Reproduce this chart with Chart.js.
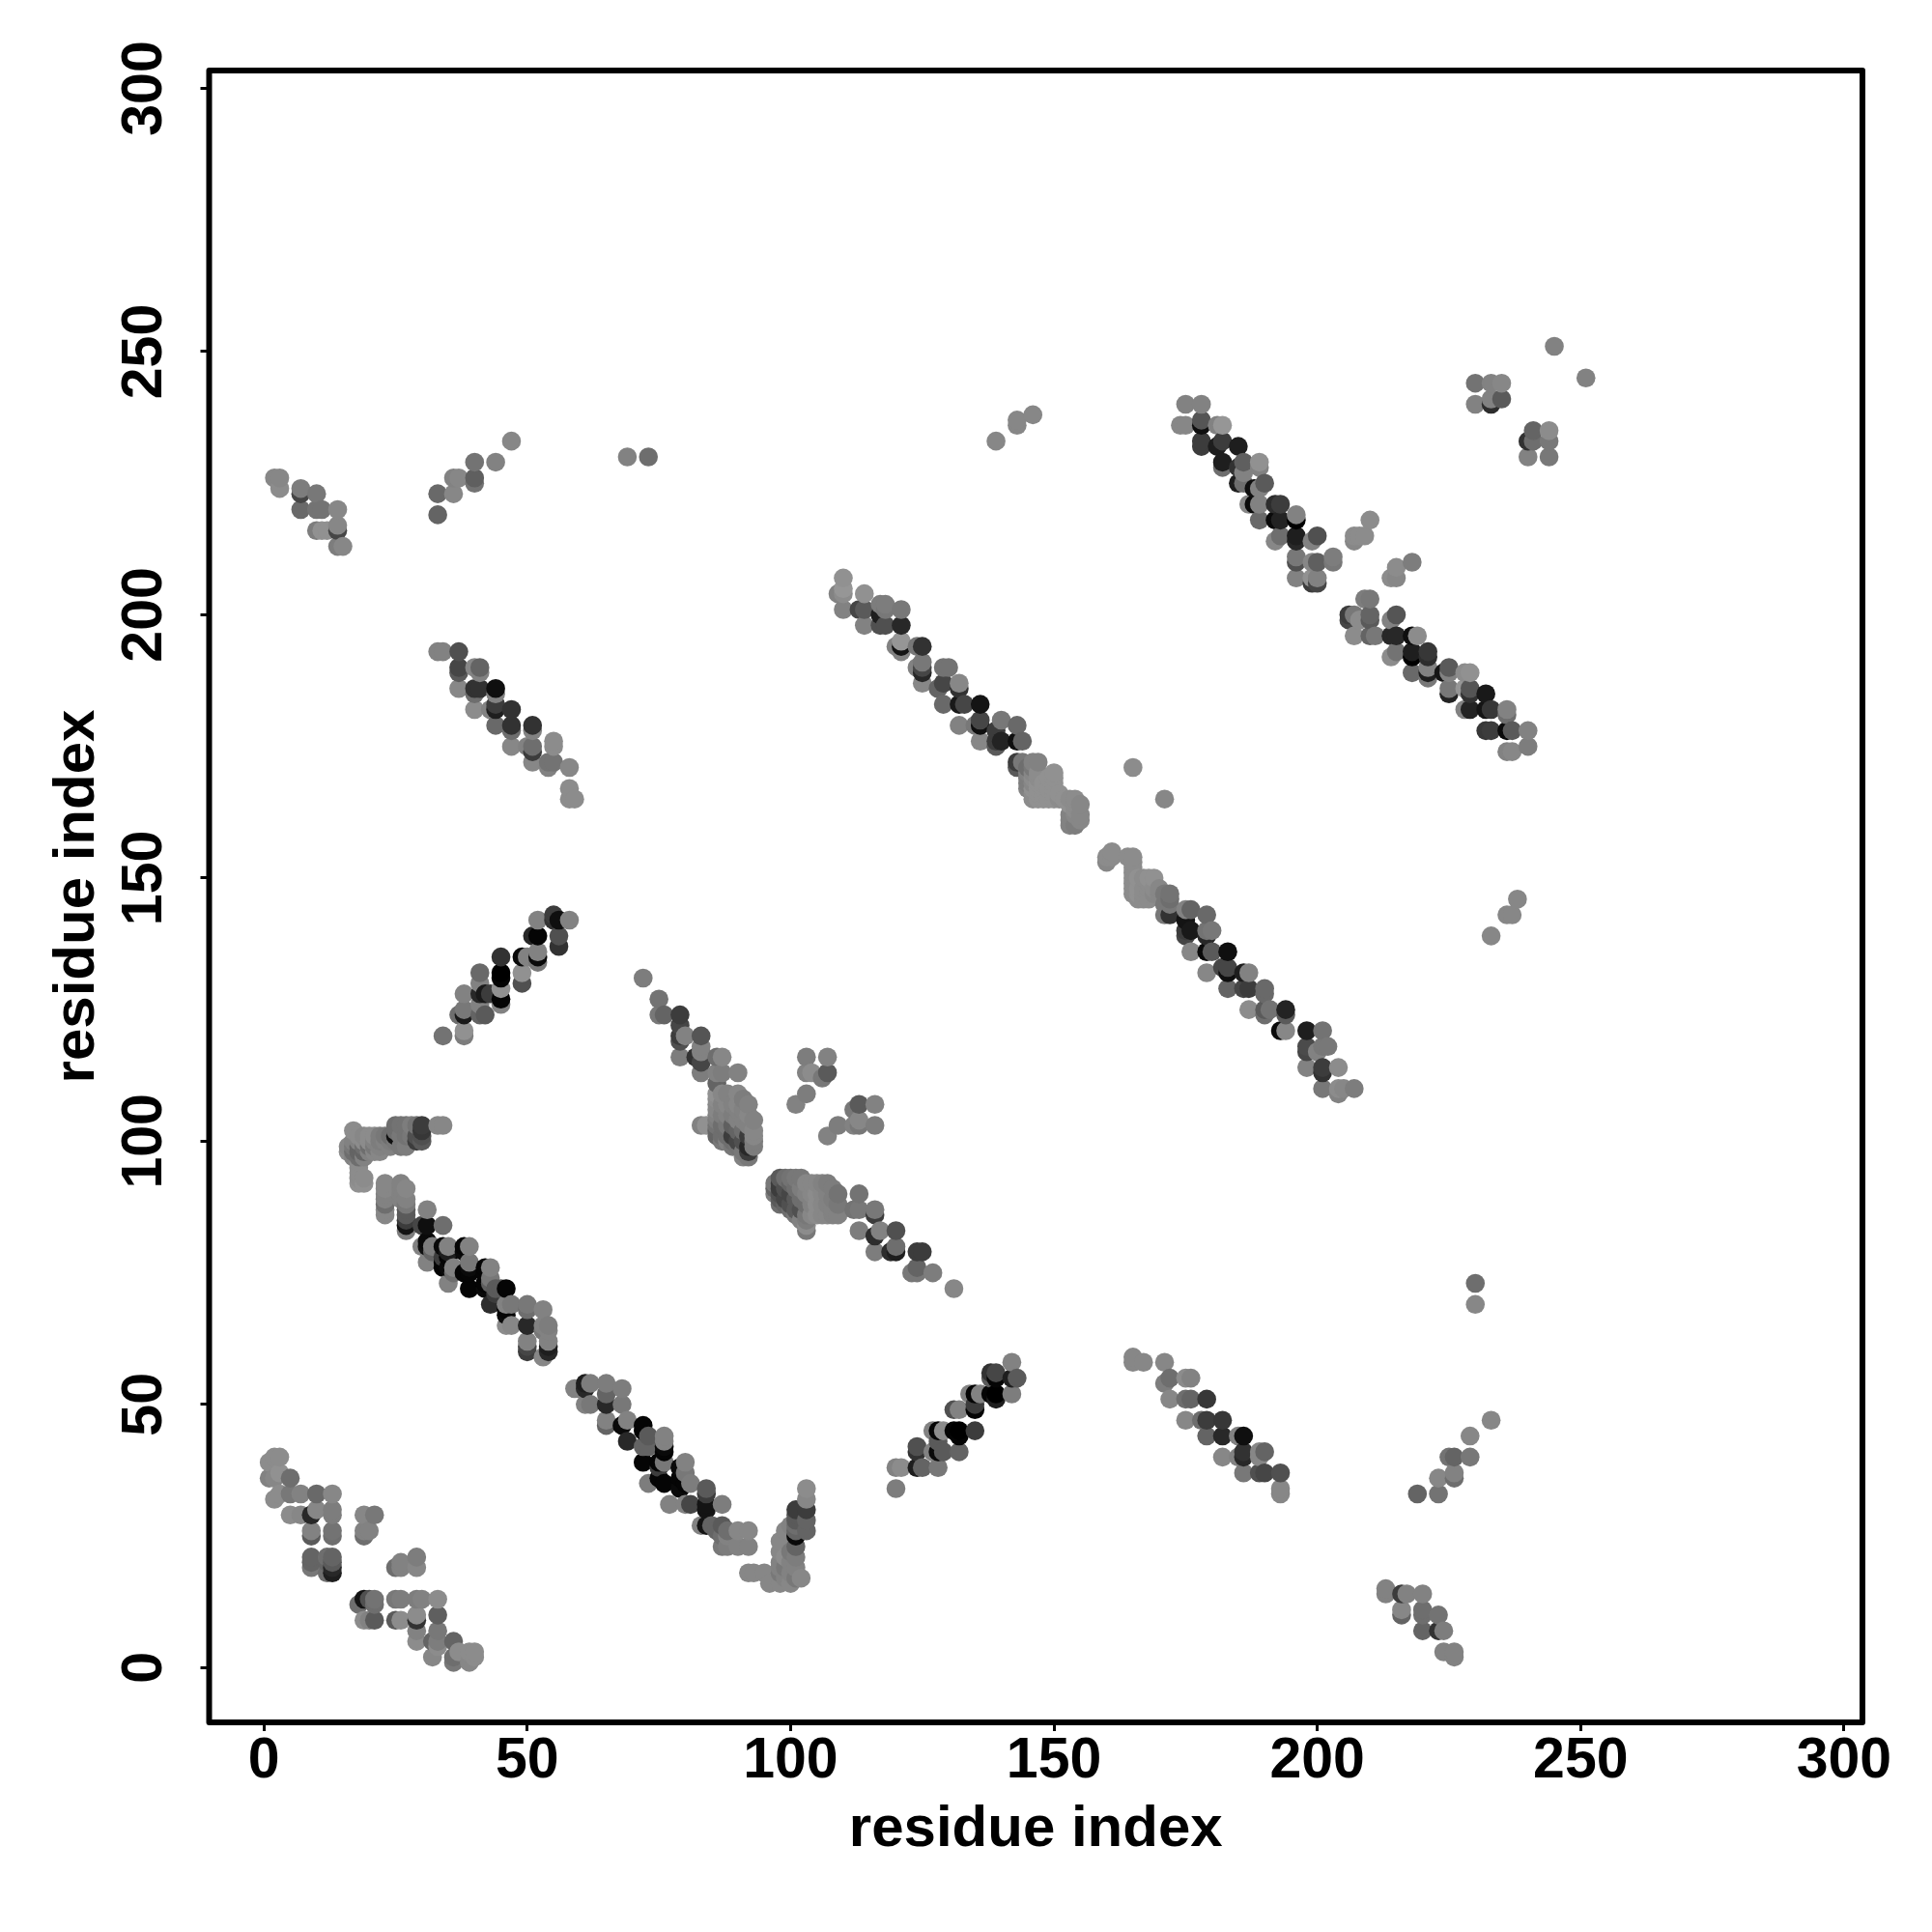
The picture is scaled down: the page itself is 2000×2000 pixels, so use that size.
<!DOCTYPE html>
<html>
<head>
<meta charset="utf-8">
<title>residue contact map</title>
<script src="https://cdn.jsdelivr.net/npm/chart.js"></script>
<style>
  html, body { margin: 0; padding: 0; background: #fff; }
  canvas { display: block; }
</style>
</head>
<body>
<canvas id="contacts" width="2000" height="2000"></canvas>
<script>
// every contact is [residue x, residue y, grey level]
const tickValues = [0, 50, 100, 150, 200, 250, 300];
const axisLabel = 'residue index';

const cornerBottomLeft = [
  [2,40,140],[3,40,140],[1,39,140],[1,36,130],[3,37,145],[5,36,110],[2,36,135],[2,32,140],[3,33,140],[5,33,120],[5,29,140],
  [7,33,130],[7,29,135],[10,33,105],[13,33,135],[9,29,40],[10,30,135],[13,30,125],[13,29,125],[9,26,130],[9,25,90],[13,26,115],[13,25,110],
  [9,21,100],[9,20,100],[9,19,120],[12,21,110],[13,21,100],[13,19,40],[12,18,110],[12,20,100],[13,20,90],[13,18,30],
  [19,29,135],[21,29,120],[19,26,130],[19,25,110],[20,26,130],[25,19,110],[26,20,130],[26,19,130],[29,21,125],[29,19,135],
  [18,12,110],[19,13,20],[20,13,80],[21,13,115],[21,12,110],[19,9,140],[20,9,130],[21,9,90],[25,13,120],[26,13,125],[25,9,90],[26,9,140],
  [29,13,125],[30,13,130],[33,13,140],[29,10,140],[29,9,50],[33,10,95],[29,7,130],[29,5,140],[33,7,120],[33,5,125],[32,2,135],[33,4,140],[32,5,100],
  [36,5,100],[36,2,110],[36,1,120],[37,3,140],[39,3,140],[39,1,135],[40,3,140],[40,2,140]
];

const stripeLeftLong = [
  [23,92,135],[23,91,135],[23,90,130],[23,89,130],[23,88,110],[23,87,135],[23,86,135],[26,92,130],[26,91,130],[26,90,130],[26,89,130],[27,91,135],[27,89,130],[27,88,120],[27,87,90],[27,86,90],[27,85,60],
  [31,87,130],[27,84,20],[27,83,125],[30,84,70],[31,84,15],[30,80,130],[31,81,10],[31,80,15],[31,77,130],[34,84,110],[32,80,125],[32,79,100],[35,80,130],[34,80,10],[35,79,30],[35,78,5],[34,78,60],[34,77,5],
  [35,76,10],[34,76,5],[36,75,110],[35,73,130],[36,76,130],[39,80,130],[38,80,5],[38,79,10],[38,75,5],[39,77,120],[39,76,10],[39,75,5],[39,72,5],[43,76,130],[42,76,5],[42,75,5],[42,73,5],[43,74,120],
  [43,73,95],[42,72,10],[46,72,5],[44,72,90],[45,72,90],[44,71,60],[43,69,45],[46,69,130],[46,68,5],[46,67,10],[47,69,120],[50,69,120],[50,68,110],[53,68,130],[46,65,140],[47,65,135],[50,65,40],[53,65,130],[53,64,120],
  [54,65,125],[54,64,130],[50,62,130],[50,61,70],[50,60,60],[54,62,130],[54,61,30],[54,60,40],[53,59,135]
];

const stripeLowerMiddle = [
  [59,53,130],[60,53,130],[61,54,30],[61,53,40],[62,54,125],[61,50,130],[62,50,120],[65,54,125],[65,52,100],[68,53,125],[65,50,40],[68,50,120],[65,47,130],[65,46,100],[69,47,130],[68,46,10],
  [69,43,40],[72,46,5],[72,45,5],[73,44,90],[73,42,100],[72,42,100],[76,44,130],[76,43,130],[76,42,10],[76,41,5],[72,39,5],[73,35,125],[76,39,120],[75,39,5],[75,38,60],[75,36,5],[76,35,5],[77,31,130],[80,39,130],[79,38,10],
  [79,36,5],[79,34,10],[80,37,120],[81,35,125],[80,35,5],[80,31,130],[81,31,70],[84,34,90],[84,33,60],[84,31,20],[84,30,20],[87,31,125],[83,27,130],[84,27,20],[85,27,100],[86,26,100],[87,27,90],[87,25,110],[87,23,120],
  [88,26,110],[88,25,130],[90,26,135],[90,23,130],[92,26,135],[92,23,130],[88,23,125],[92,18,135],[93,18,135],[95,18,135],[96,16,135],[98,16,135],[102,17,135],[98,19,130],[101,19,130],[98,22,135],
  [98,24,135],[98,20,130],[98,18,120],[99,17,130],[99,19,120],[100,20,130],[100,22,120],[100,16,135],[101,21,125],[101,17,120],
  [101,23,100],[99,26,135],[101,25,10],[103,34,140],[103,32,135],[101,30,60],[103,30,60],[101,29,90],[103,28,100],[101,28,90],[101,27,110],[100,27,130],[103,26,100],[101,26,100],[100,18,130],[99,21,140]
];

const stripeLeftUpper = [
  [34,120,115],[38,121,145],[38,120,125],[38,128,130],[38,125,120],[38,124,25],[37,124,110],[42,124,90],[41,124,100],[41,132,105],[41,130,130],
  [41,128,40],[42,128,25],[43,128,60],[41,126,130],[45,135,50],[45,132,0],[45,131,5],[45,129,145],[45,127,5],[45,126,130],[49,135,10],[50,135,130],
  [49,132,145],[49,130,80],[52,136,130],[52,135,10],[52,134,120],[52,139,5],[51,139,40],[56,139,80],[56,137,50],[52,142,130],[55,142,50],[56,142,15],[55,143,60],[58,142,130]
];

const hookNearHundred = [
  [17,102,140],[16,99,135],[16,98,140],[17,100,130],[17,99,120],[17,98,110],[18,101,140],[18,100,130],[18,99,100],[19,101,135],[19,100,140],[19,99,110],[19,98,100],[19,97,130],[20,101,140],[20,100,140],[20,99,110],
  [21,101,140],[21,100,130],[21,99,120],[21,98,135],[22,101,125],[22,100,125],[22,99,130],[22,98,135],[20,98,130],[18,98,100],[18,97,110],[17,97,130],[18,96,140],[18,95,140],[18,94,140],[18,93,140],[18,92,145],[19,93,140],[19,92,145],
  [23,101,120],[23,100,130],[24,101,110],[24,100,125],[24,99,130],[25,103,110],[25,102,110],[25,101,15],[25,100,120],[26,103,115],[26,101,120],[26,99,120],[27,103,115],[27,101,115],[27,99,125],
  [28,103,125],[28,101,120],[29,103,115],[29,101,80],[29,100,60],[30,103,60],[30,102,55],[30,101,80],[30,100,90],[33,103,135],[34,103,135]
];

const stripeCentre = [
  [72,131,125],[75,127,115],[75,124,120],[76,124,100],[79,124,60],[79,122,70],[79,120,60],[80,120,130],[79,119,80],[83,120,85],[83,118,130],[83,117,130],
  [79,116,125],[82,116,50],[83,115,70],[86,116,110],[87,116,135],[83,113,125],[86,113,130],[87,113,125],[90,113,130],[86,111,100],[83,103,130],[84,103,145],
  [113,90,115],[113,87,120],[112,87,115],[116,87,120],[116,86,60],[113,83,125],[116,82,45],[117,83,130],[120,83,80],[120,80,110],[116,79,125],[119,79,45],[120,79,30],
  [124,79,60],[125,79,60],[124,76,100],[123,75,120],[124,75,120],[127,75,125],[131,72,135]
];

// the two crowded patches either side of the gap near residue 95
const patchUpper = [
  [86,109,145],[86,108,140],[86,107,135],[86,106,135],[86,105,130],[86,104,125],[86,103,115],[86,102,100],[86,101,100],
  [87,109,135],[87,107,130],[87,105,125],[87,103,110],[87,101,110],[87,100,120],
  [88,109,130],[88,107,135],[88,105,130],[88,103,120],[88,101,110],[88,100,130],
  [89,107,130],[89,105,125],[89,103,95],[89,101,60],[89,100,110],[89,99,120],
  [90,109,135],[90,107,135],[90,106,130],[90,104,130],[90,102,100],[90,100,70],[90,99,115],
  [91,108,125],[91,106,130],[91,104,130],[91,102,110],[91,100,80],[91,98,120],[91,97,130],
  [92,107,130],[92,105,135],[92,103,130],[92,101,60],[92,99,40],[92,98,60],[92,97,120],
  [93,104,130],[93,102,135],[93,101,135],[93,100,125],[93,99,125]
];

const patchLower = [
  [97,92,120],[97,91,100],[97,90,125],
  [98,93,90],[98,92,60],[98,91,60],[98,90,80],[98,89,90],[98,88,110],
  [99,93,110],[99,91,80],[99,89,70],[99,88,100],
  [100,93,115],[100,92,100],[100,90,70],[100,88,80],[100,87,110],
  [101,93,120],[101,91,110],[101,89,90],[101,87,90],[101,86,120],
  [102,93,120],[102,91,125],[102,89,110],[102,87,80],[102,85,130],
  [103,92,135],[103,90,130],[103,88,110],[103,86,120],[103,85,125],[103,84,140],[103,83,120],
  [104,92,135],[104,90,135],[104,88,130],[104,86,135],
  [105,92,135],[105,90,140],[105,88,140],[105,86,140],
  [106,92,130],[106,90,135],[106,88,135],[106,86,135],
  [107,92,125],[107,90,130],[107,88,130],[107,86,135],
  [108,91,125],[108,89,125],[108,87,130],[108,86,130],
  [109,90,115],[109,88,120],[109,86,130]
];

const wingsCentre = [
  [103,116,125],[107,116,130],[103,113,130],[104,113,140],[106,112,120],[107,113,90],[103,109,125],[101,107,130],
  [113,107,90],[112,106,120],[116,107,130],[113,104,135],[113,103,120],[112,103,130],[109,103,125],[116,103,125],[107,101,130]
];

const clusterBottomMiddle = [
  [120,34,125],[120,38,130],[121,38,140],[124,42,80],[124,41,50],[125,38,100],[124,38,30],[128,38,120],[127,45,130],[128,45,5],[129,45,140],
  [127,41,130],[128,41,10],[129,41,90],[128,43,90],[131,45,5],[132,45,0],[132,41,100],[132,44,5],[135,45,60],[131,49,80],[132,49,130],[135,49,5],[135,50,60],
  [134,52,130],[135,52,5],[136,52,130],[138,52,5],[139,52,0],[139,51,30],[142,52,125],[138,56,50],[139,56,70],[138,55,90],[139,55,5],[142,58,130],[142,55,30],[143,55,90]
];

const clusterBottomRight = [
  [165,59,135],[165,58,135],[167,58,135],[171,58,135],[172,55,110],[171,54,125],[175,55,140],[176,55,130],[172,51,135],[175,51,110],[176,51,100],[179,51,55],
  [175,47,135],[179,47,60],[182,47,55],[178,47,110],[179,44,100],[182,44,40],[186,44,15],[185,44,130],[182,40,135],[186,41,50],[186,40,40],[185,40,130],
  [189,41,135],[190,41,100],[189,40,135],[186,37,120],[189,37,80],[190,37,70],[193,37,80],[193,34,135],[193,33,135]
];

const isolatedRight = [
  [230,73,110],[230,69,135],[233,47,135],[229,44,135],[226,40,100],[225,40,115],[229,40,120],[223,36,135],[226,37,130],[226,36,110],[219,33,100],[223,33,115],
  [213,15,130],[213,14,130],[216,14,60],[217,14,130],[220,14,130],[216,11,135],[216,10,100],[220,11,110],[220,10,110],[223,10,115],[220,7,100],[223,7,50],[224,7,125],
  [224,3,130],[226,3,130],[226,2,130],[233,139,135],[236,143,135],[237,143,135],[238,146,135]
];

const stripeDiagonal = [
  [110,207,145],[110,205,150],[109,204,130],[110,204,140],[110,201,130],[114,204,145],[113,201,70],[114,201,90],[114,198,130],[117,202,125],[118,202,125],[117,200,30],[118,201,120],
  [117,198,80],[118,198,80],[121,201,120],[121,198,40],[121,195,150],[121,194,20],[120,194,130],[121,193,130],[125,194,50],[124,194,120],[125,191,120],[125,190,70],[124,190,130],[125,189,40],
  [125,187,135],[129,190,115],[130,190,115],[129,187,70],[128,186,100],[132,187,135],[132,186,50],[129,183,105],[132,183,25],[133,183,70],[132,179,130],
  [136,183,20],[136,180,70],[136,179,15],[135,179,120],[136,176,135],[140,180,120],[139,178,60],[143,179,105],[144,176,100],[143,176,15],[139,176,60],[139,175,90],[140,176,35],
  [143,172,60],[143,171,90],[144,172,120],[175,144,130],[176,144,100],[175,142,20],[179,143,105],[175,140,60],[176,140,25],[175,139,70],
  [179,140,115],[180,140,120],[179,139,40],[176,136,135],[183,136,15],[180,136,90],[179,136,10],[179,132,135],[183,133,70],[183,132,15],[182,133,70],[187,132,130],[186,132,30],
  [183,129,100],[186,129,70],[187,129,60],[190,129,105],[190,128,105],[187,125,140],[190,125,90],[191,125,115],[190,124,110],[194,125,35],[194,124,90],
  [193,121,10],[194,121,135],[198,121,30],[201,121,115],[198,118,75],[198,117,70],[201,118,120],[202,118,120],[200,117,130],[198,114,130],[201,114,60],[201,113,50],[204,114,140],
  [201,110,120],[204,110,140],[204,109,130],[207,110,125],[205,110,135]
];

// pale middle of the long diagonal
const diagonalPale = [
  [145,171,110],[145,170,130],[145,169,125],[145,168,125],[145,167,130],
  [146,172,130],[146,171,120],[146,170,135],[146,169,140],[146,168,135],[146,167,145],[146,166,140],[146,165,140],
  [147,172,130],[147,170,140],[147,169,140],[147,168,145],[147,167,145],[147,166,145],[147,165,145],
  [148,168,145],[148,167,145],[148,166,145],[148,165,145],[149,169,145],[149,167,145],[149,165,145],
  [150,170,145],[150,169,145],[150,168,145],[150,167,145],[150,166,145],[150,165,145],[151,166,145],[151,165,140],[152,165,145],
  [153,165,140],[153,164,145],[153,162,130],[153,161,130],[153,160,130],[154,165,140],[154,164,140],[154,163,140],[154,162,135],[154,160,125],[155,164,135],[155,162,135],[155,161,135],
  [161,155,140],[160,154,140],[160,153,135],[161,154,140],[164,154,140],[165,154,140],[165,153,140],[165,152,140],
  [165,151,140],[165,150,140],[165,149,140],[165,148,140],[165,147,140],[166,150,145],[166,148,145],[166,147,145],[166,146,140],
  [167,150,140],[167,148,140],[167,147,140],[167,146,140],[168,150,145],[168,149,140],[168,148,140],[168,147,140],[168,146,140],
  [169,150,145],[169,148,140],[169,147,135],[170,148,135],[170,147,135],[171,147,120],[171,145,120],[171,143,120],
  [172,147,115],[172,146,110],[172,145,120],[172,143,50]
];

const stripeUpperRight = [
  [175,240,130],[178,240,130],[174,236,135],[175,236,135],[178,237,85],[178,236,15],[181,236,130],[182,236,150],[178,232,60],[178,233,60],[181,232,30],[182,233,60],[185,232,30],
  [182,229,30],[182,228,110],[186,229,95],[185,228,50],[186,227,130],[189,229,145],[189,228,130],[185,225,30],[186,225,110],[190,225,90],[188,224,15],[189,224,130],
  [187,221,135],[188,221,10],[189,221,130],[189,218,105],[192,221,45],[193,221,60],[192,218,10],[193,218,35],[196,219,130],[196,218,0],[196,215,30],[196,214,40],[200,215,80],[199,214,130],
  [192,214,135],[193,215,110],[196,211,120],[196,210,80],[196,207,130],[203,210,120],[203,211,125],[199,210,135],[200,210,95],[200,207,130],[199,207,145],[199,206,60],[200,206,70],
  [210,218,140],[207,215,140],[209,215,140],[207,214,135],[208,215,140],[218,210,125],[215,209,140],[215,207,135],[214,207,140],
  [209,203,125],[210,203,120],[206,200,60],[206,199,70],[208,199,140],[207,200,120],[210,200,100],[210,199,90],[207,196,140],[210,196,100],[211,196,120],[215,200,85],[214,199,130],
  [214,196,40],[215,196,40],[218,196,15],[219,196,140],[215,193,115],[214,192,140],[218,193,30],[218,192,0],[221,193,55],[221,192,45],[218,189,105],[221,190,130],[221,189,30],[221,188,120],
  [225,190,90],[224,189,20],[225,189,130],[229,189,145],[228,189,140],[225,185,35],[225,186,120],[228,186,150],[229,186,85],[229,185,50],[232,185,25],[228,182,130],[229,182,35],
  [232,182,20],[233,182,55],[236,182,130],[236,181,110],[232,178,55],[233,178,60],[236,178,10],[237,178,90],[240,178,130],[236,174,130],[237,174,135],[240,175,125]
];

const clusterTopRight = [
  [245,251,130],[251,245,130],[230,244,115],[233,244,130],[235,244,135],[230,240,130],[233,240,45],[235,241,90],[233,241,130],
  [241,235,100],[244,235,140],[240,233,50],[241,233,110],[244,233,120],[240,230,130],[244,230,120],[139,233,135],[143,236,135],[143,237,135],[146,238,135],[165,171,140],[171,165,135]
];

const clusterTopLeft = [
  [2,226,135],[3,226,135],[3,224,140],[7,224,125],[7,223,70],[10,223,120],[7,220,105],[10,220,115],[11,220,115],[14,220,135],[10,216,125],[11,216,145],[12,216,145],[14,217,135],[14,216,70],[14,213,125],[15,213,135],
  [33,223,105],[33,219,100],[36,223,135],[36,226,130],[37,226,135],[40,229,115],[40,226,95],[40,225,115],[44,229,130],[47,233,135],[69,230,130],[73,230,110]
];

const stripeUpperLeft = [
  [33,193,130],[34,193,130],[37,193,80],[37,190,70],[37,189,90],[40,190,135],[41,190,100],[41,189,130],[37,186,135],[40,186,50],[41,186,50],[40,185,110],[44,186,15],[44,185,130],
  [40,182,140],[44,183,60],[44,182,30],[43,182,130],[47,182,50],[44,179,105],[47,179,50],[47,178,110],[51,179,50],[51,178,130],[47,175,135],[51,175,110],[50,175,130],[51,174,60],
  [55,176,140],[55,175,140],[51,172,135],[54,172,115],[54,171,130],[55,172,115],[58,171,135],[58,167,140],[58,165,140],[59,165,140]
];

// R drew them by residue, so later residues sit on top of earlier ones
const contacts = [].concat(
  cornerBottomLeft, stripeLeftLong, stripeLowerMiddle, stripeLeftUpper, hookNearHundred,
  stripeCentre, patchUpper, patchLower, wingsCentre, clusterBottomMiddle, clusterBottomRight, isolatedRight,
  stripeDiagonal, diagonalPale, stripeUpperRight, clusterTopRight, clusterTopLeft, stripeUpperLeft
).sort((a, b) => a[0] - b[0] || a[1] - b[1]);

const frame = {
  id: 'frame',
  afterDatasetsDraw(chart) {
    const { ctx, chartArea: a } = chart;
    ctx.save();
    ctx.strokeStyle = '#000';
    ctx.lineWidth = 6;
    ctx.lineJoin = 'round';
    ctx.strokeRect(a.left, a.top, a.right - a.left, a.bottom - a.top);
    ctx.restore();
  }
};

const tickFont = { family: '"Liberation Sans"', weight: 'bold', size: 59 };
const titleFont = { family: '"Liberation Sans"', weight: 'bold', size: 60 };
const gridOpts = { drawOnChartArea: false, tickLength: 9, tickWidth: 3, tickColor: '#000' };
const useTicks = scale => { scale.ticks = tickValues.map(v => ({ value: v })); };

new Chart(document.getElementById('contacts'), {
  type: 'scatter',
  data: {
    datasets: [{
      data: contacts.map(c => ({ x: c[0], y: c[1] })),
      pointBackgroundColor: contacts.map(c => `rgb(${c[2]},${c[2]},${c[2]})`),
      pointBorderWidth: 0,
      pointRadius: 9.8,
      clip: false
    }]
  },
  options: {
    responsive: false,
    animation: false,
    devicePixelRatio: 1,
    layout: { padding: { top: 73, right: 72, left: 0, bottom: 0 } },
    plugins: { legend: { display: false }, tooltip: { enabled: false } },
    scales: {
      x: {
        type: 'linear', min: -10.4, max: 303.5,
        afterBuildTicks: useTicks,
        afterFit: s => { s.height = 217; },
        border: { display: false },
        grid: gridOpts,
        ticks: { color: '#000', font: tickFont, padding: -4, autoSkip: false, maxRotation: 0, minRotation: 0 },
        title: { display: true, text: axisLabel, color: '#000', font: titleFont, padding: { top: 0, bottom: 70 } }
      },
      y: {
        type: 'linear', min: -10.4, max: 303.4,
        afterBuildTicks: useTicks,
        afterFit: s => { s.width = 216.5; },
        border: { display: false },
        grid: gridOpts,
        ticks: { color: '#000', font: tickFont, padding: 7.5, autoSkip: false, minRotation: 90, maxRotation: 90, crossAlign: 'center' },
        title: { display: true, text: axisLabel, color: '#000', font: titleFont, padding: { top: 44, bottom: 0 } }
      }
    }
  },
  plugins: [frame]
});
</script>
</body>
</html>
